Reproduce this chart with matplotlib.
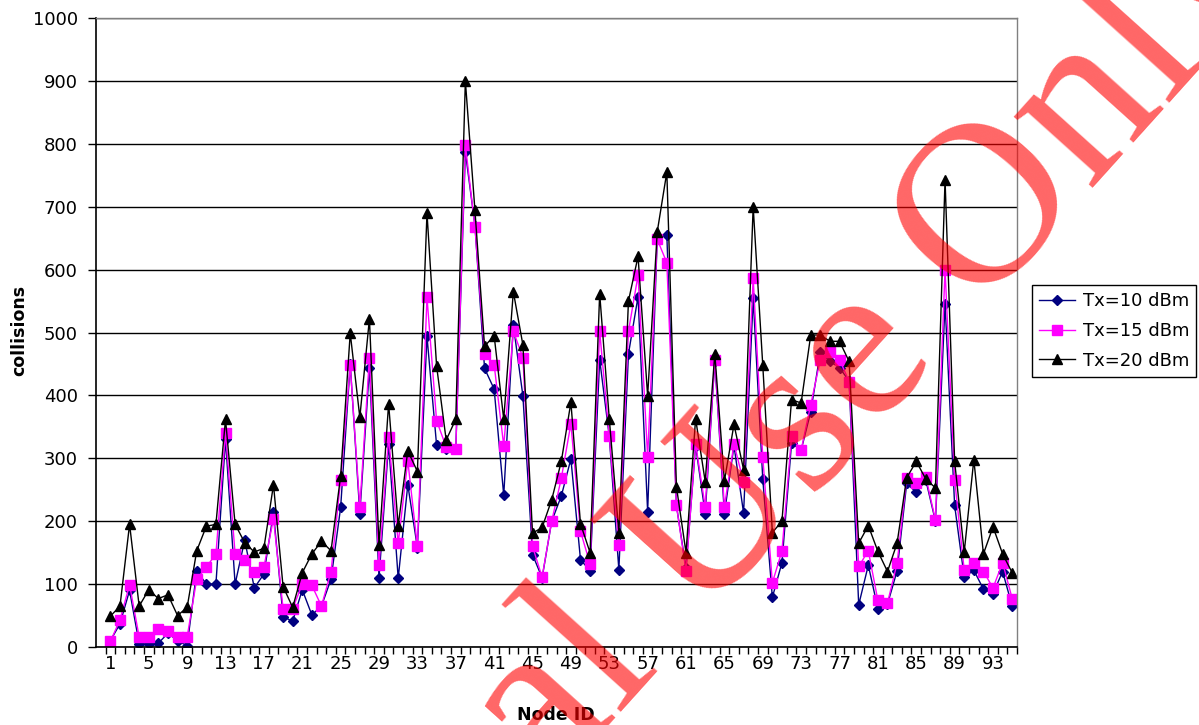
import numpy as np
import matplotlib.pyplot as plt
from matplotlib.lines import Line2D

# node ids and collision counts per transmit power
nodes = list(range(1, 96))
tx10 = [10, 37, 90, 5, 5, 6, 22, 10, 2, 121,
        100, 100, 330, 100, 170, 94, 116, 214, 48, 41,
        91, 51, 65, 108, 222, 450, 212, 444, 110, 323,
        109, 258, 158, 494, 321, 314, 314, 787, 670, 443,
        410, 241, 512, 399, 147, 110, 200, 240, 299, 139,
        121, 457, 335, 123, 466, 557, 215, 650, 655, 225,
        125, 320, 212, 455, 212, 320, 213, 555, 267, 79,
        134, 324, 313, 374, 469, 454, 444, 423, 67, 130,
        61, 68, 121, 260, 246, 265, 200, 546, 225, 111,
        122, 92, 85, 120, 65]
tx15 = [9, 43, 99, 16, 16, 29, 26, 16, 16, 108,
        127, 148, 341, 148, 138, 119, 127, 204, 61, 61,
        100, 98, 65, 120, 265, 448, 222, 460, 130, 334,
        165, 296, 160, 556, 360, 318, 314, 798, 668, 466,
        449, 320, 502, 460, 160, 111, 200, 268, 355, 184,
        132, 502, 335, 162, 502, 591, 302, 648, 611, 225,
        121, 323, 223, 456, 223, 323, 262, 586, 302, 102,
        153, 335, 313, 385, 457, 469, 457, 422, 128, 153,
        74, 70, 133, 269, 260, 270, 202, 600, 266, 122,
        134, 120, 94, 134, 77]
tx20 = [49, 65, 195, 65, 91, 77, 83, 50, 63, 153,
        192, 195, 362, 195, 166, 151, 157, 258, 96, 63,
        118, 148, 168, 153, 272, 499, 365, 522, 162, 387,
        193, 312, 279, 690, 447, 329, 362, 900, 694, 478,
        495, 362, 565, 480, 181, 190, 234, 295, 389, 196,
        150, 562, 363, 182, 550, 621, 399, 660, 755, 255,
        150, 363, 263, 466, 264, 354, 282, 700, 448, 182,
        200, 393, 388, 496, 496, 486, 486, 454, 165, 193,
        152, 120, 165, 269, 295, 267, 253, 743, 295, 151,
        298, 148, 191, 148, 118]
labels = ['Tx=10 dBm', 'Tx=15 dBm', 'Tx=20 dBm']
xtick_vals = list(range(1, 96, 4))
ytick_vals = list(range(0, 1001, 100))

W, H = 1199, 725
fig = plt.figure(figsize=(W / 100, H / 100), dpi=100)
ax = fig.add_axes([96 / W, 1 - 647 / H, (1017 - 96) / W, (647 - 18) / H])

ax.plot(nodes, tx10, color='#000080', lw=1, marker='D', ms=5,
        mfc='#000080', mec='#000080')
ax.plot(nodes, tx15, color='#FF00FF', lw=1, marker='s', ms=7,
        mfc='#FF00FF', mec='#FF00FF')
ax.plot(nodes, tx20, color='black', lw=1, marker='^', ms=7,
        mfc='black', mec='black')

ax.set_xlim(-0.5, 95.5)
ax.set_ylim(0, 1000)
ax.set_xticks(xtick_vals)
ax.set_xticklabels([str(v) for v in xtick_vals])
ax.set_xticks(np.arange(0.5, 96, 1), minor=True)
ax.tick_params(axis='x', which='major', length=0, labelsize=13, pad=6)
ax.tick_params(axis='x', which='minor', length=5, width=1, direction='out')
ax.set_yticks(ytick_vals)
ax.tick_params(axis='y', length=6, width=1, direction='out', labelsize=13, pad=7)

ax.yaxis.grid(True, color='black', lw=1)
ax.set_axisbelow(True)
for s in ['left', 'bottom']:
    ax.spines[s].set_color('black')
    ax.spines[s].set_linewidth(1.2)
for s in ['top', 'right']:
    ax.spines[s].set_color('#808080')
    ax.spines[s].set_linewidth(1)

fig.text(19 / W, 1 - 330 / H, 'collisions', rotation=90, ha='center',
         va='center', fontsize=12.5, fontweight='bold')
fig.text(556 / W, 1 - 715 / H, 'Node ID', ha='center', va='center',
         fontsize=12.5, fontweight='bold')

handles = [
    Line2D([], [], color='#000080', lw=1, marker='D', ms=5),
    Line2D([], [], color='#FF00FF', lw=1, marker='s', ms=7),
    Line2D([], [], color='black', lw=1, marker='^', ms=7),
]
leg = fig.legend(handles, labels, loc='upper left',
                 bbox_to_anchor=(1032 / W, 1 - 285 / H), fontsize=13,
                 frameon=True, fancybox=False, edgecolor='black',
                 framealpha=1, handlelength=2.0, labelspacing=0.65,
                 borderpad=0.4, handletextpad=0.4, borderaxespad=0)
leg.get_frame().set_linewidth(1)

# watermark
fig.text(709 / W, 1 - 615 / H, 'Personal Use Only', rotation=48,
         rotation_mode='anchor', ha='center', va='baseline',
         family='Liberation Serif', fontsize=166, color='red', alpha=0.6,
         zorder=10)

fig.savefig('out.png', dpi=100)
